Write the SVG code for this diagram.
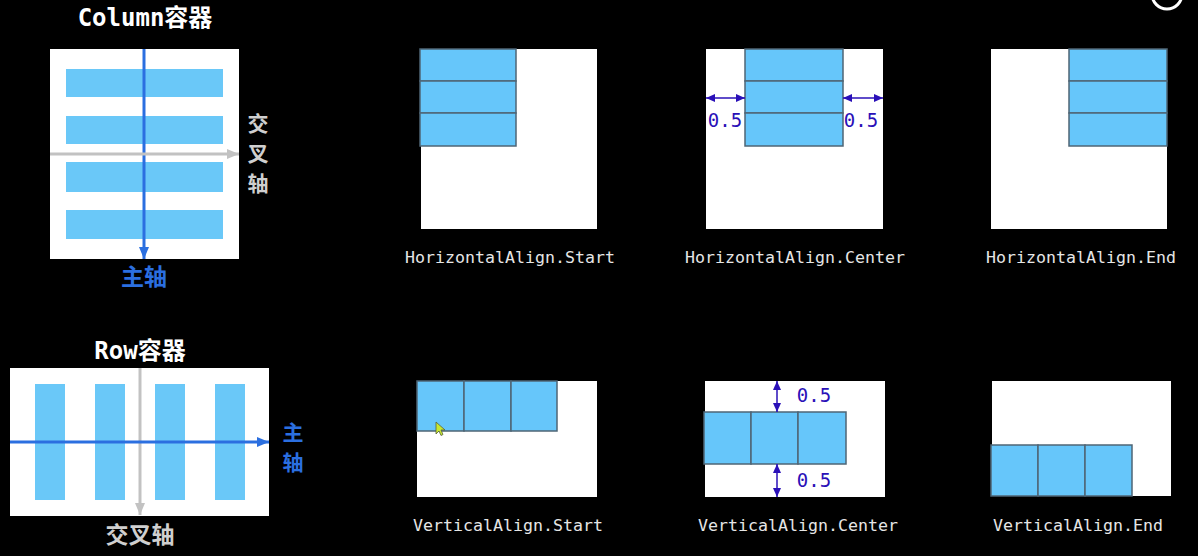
<svg xmlns="http://www.w3.org/2000/svg" width="1198" height="556" viewBox="0 0 1198 556">
<style>
.bg{fill:#000}
.box{fill:#fff}
.bar{fill:#6ac8f8}
.cell{fill:#66c6fa;stroke:#4f6575;stroke-width:1.5}
.title{font-family:"DejaVu Sans Mono","Noto Sans CJK SC",monospace;font-weight:bold;font-size:24px;fill:#fff;text-anchor:middle}
.cjk{font-family:"Noto Sans CJK SC",sans-serif;font-weight:bold;font-size:23px;text-anchor:middle}
.vcjk{font-family:"Noto Sans CJK SC",sans-serif;font-weight:bold;font-size:21px;text-anchor:middle}
.gray{fill:#cfcfcf}
.blue{fill:#2b6fe0}
.cap{font-family:"DejaVu Sans Mono","Liberation Mono",monospace;font-size:16.6px;fill:#e6e6e6;text-anchor:middle}
.num{font-family:"DejaVu Sans Mono","Liberation Mono",monospace;font-size:19px;fill:#2a10b8;text-anchor:middle}
.axb{stroke:#2b6fe0;stroke-width:3;fill:none}
.axg{stroke:#c2c2c2;stroke-width:3;fill:none}
.dim{stroke:#2a10b8;stroke-width:1.5;fill:none}
</style>
<defs>
<marker id="ahb" viewBox="0 0 12 10" refX="12" refY="5" markerWidth="12" markerHeight="10" markerUnits="userSpaceOnUse" orient="auto"><path d="M0,0 L12,5 L0,10 z" fill="#2b6fe0"/></marker>
<marker id="ahg" viewBox="0 0 12 10" refX="12" refY="5" markerWidth="12" markerHeight="10" markerUnits="userSpaceOnUse" orient="auto"><path d="M0,0 L12,5 L0,10 z" fill="#c2c2c2"/></marker>
<marker id="ahi" viewBox="0 0 9 8" refX="9" refY="4" markerWidth="9" markerHeight="8" markerUnits="userSpaceOnUse" orient="auto-start-reverse"><path d="M0,0 L9,4 L0,8 z" fill="#2a10b8"/></marker>
</defs>
<rect class="bg" x="0" y="0" width="1198" height="556"/>

<g id="column-container">
<text class="title" x="145" y="26">Column容器</text>
<rect class="box" x="50" y="49" width="189" height="210"/>
<rect class="bar" x="66" y="69" width="157" height="28"/>
<rect class="bar" x="66" y="116" width="157" height="28"/>
<rect class="bar" x="66" y="162" width="157" height="30"/>
<rect class="bar" x="66" y="210" width="157" height="29"/>
<text class="vcjk gray" x="258" y="131">交</text>
<text class="vcjk gray" x="258" y="161">叉</text>
<text class="vcjk gray" x="258" y="191">轴</text>
<text class="cjk blue" x="144" y="285">主轴</text>
</g>

<g id="row-container">
<text class="title" x="140" y="359">Row容器</text>
<rect class="box" x="10" y="368" width="259" height="148"/>
<rect class="bar" x="35" y="384" width="30" height="116"/>
<rect class="bar" x="95" y="384" width="30" height="116"/>
<rect class="bar" x="155" y="384" width="30" height="116"/>
<rect class="bar" x="215" y="384" width="30" height="116"/>
<text class="vcjk blue" x="293" y="440">主</text>
<text class="vcjk blue" x="293" y="470">轴</text>
<text class="cjk gray" x="140" y="543">交叉轴</text>
</g>

<g id="h-start">
<rect class="box" x="421" y="49" width="176" height="180"/>
<rect class="cell" x="420" y="49" width="96" height="32"/>
<rect class="cell" x="420" y="81" width="96" height="32"/>
<rect class="cell" x="420" y="113" width="96" height="33"/>
<text class="cap" x="510" y="263">HorizontalAlign.Start</text>
</g>

<g id="h-center">
<rect class="box" x="706" y="49" width="177" height="180"/>
<rect class="cell" x="745" y="49" width="98" height="32"/>
<rect class="cell" x="745" y="81" width="98" height="32"/>
<rect class="cell" x="745" y="113" width="98" height="33"/>
<text class="num" x="725" y="127">0.5</text>
<text class="num" x="861" y="127">0.5</text>
<text class="cap" x="795" y="263">HorizontalAlign.Center</text>
</g>

<g id="h-end">
<rect class="box" x="991" y="49" width="176" height="180"/>
<rect class="cell" x="1069" y="49" width="98" height="32"/>
<rect class="cell" x="1069" y="81" width="98" height="32"/>
<rect class="cell" x="1069" y="113" width="98" height="33"/>
<text class="cap" x="1081" y="263">HorizontalAlign.End</text>
</g>

<g id="v-start">
<rect class="box" x="417" y="381" width="180" height="116"/>
<rect class="cell" x="417" y="381" width="47" height="50"/>
<rect class="cell" x="464" y="381" width="47" height="50"/>
<rect class="cell" x="511" y="381" width="46" height="50"/>
<path d="M436,422 L436,434 L439,431 L441,435.5 L443,434.5 L441,430 L445,430 Z" fill="#c8e830" stroke="#55603a" stroke-width="0.8"/>
<text class="cap" x="508" y="531">VerticalAlign.Start</text>
</g>

<g id="v-center">
<rect class="box" x="705" y="381" width="180" height="116"/>
<rect class="cell" x="704" y="412" width="47" height="52"/>
<rect class="cell" x="751" y="412" width="47" height="52"/>
<rect class="cell" x="798" y="412" width="48" height="52"/>
<text class="num" x="814" y="402">0.5</text>
<text class="num" x="814" y="487">0.5</text>
<text class="cap" x="798" y="531">VerticalAlign.Center</text>
</g>

<g id="v-end">
<rect class="box" x="992" y="381" width="179" height="115"/>
<rect class="cell" x="991" y="445" width="47" height="51"/>
<rect class="cell" x="1038" y="445" width="47" height="51"/>
<rect class="cell" x="1085" y="445" width="47" height="51"/>
<text class="cap" x="1078" y="531">VerticalAlign.End</text>
</g>

<g id="connectors">
<line class="axb" x1="144" y1="49" x2="144" y2="259" marker-end="url(#ahb)"/>
<line class="axg" x1="50" y1="154" x2="239" y2="154" marker-end="url(#ahg)"/>
<line class="axg" x1="140" y1="368" x2="140" y2="515" marker-end="url(#ahg)"/>
<line class="axb" x1="10" y1="442" x2="269" y2="442" marker-end="url(#ahb)"/>
<line class="dim" x1="706" y1="98" x2="745" y2="98" marker-start="url(#ahi)" marker-end="url(#ahi)"/>
<line class="dim" x1="843" y1="98" x2="883" y2="98" marker-start="url(#ahi)" marker-end="url(#ahi)"/>
<line class="dim" x1="777" y1="381" x2="777" y2="412" marker-start="url(#ahi)" marker-end="url(#ahi)"/>
<line class="dim" x1="777" y1="464" x2="777" y2="497" marker-start="url(#ahi)" marker-end="url(#ahi)"/>
</g>

<g id="corner-mark">
<circle cx="1167" cy="-6" r="15" fill="none" stroke="#fff" stroke-width="3"/>
</g>
</svg>
